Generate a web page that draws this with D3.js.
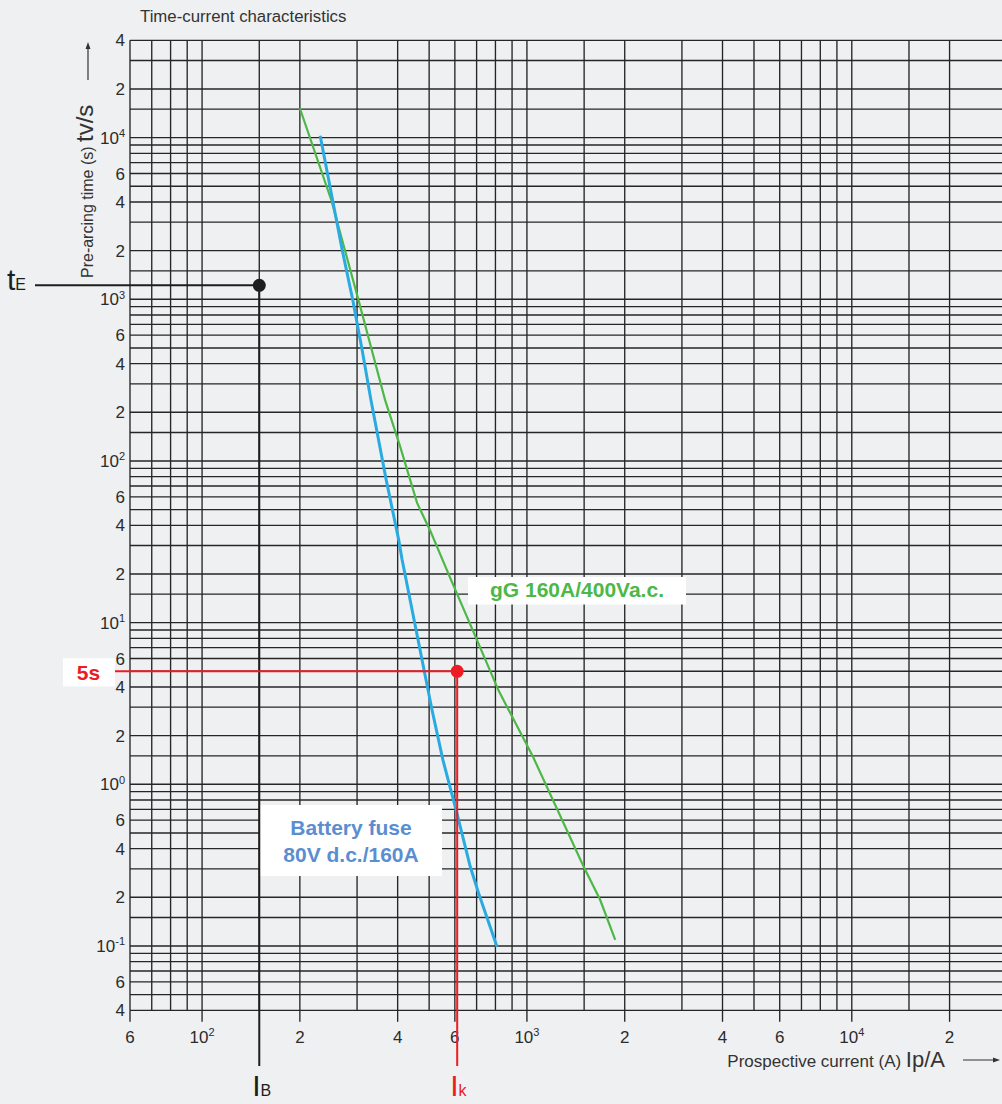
<!DOCTYPE html>
<html>
<head>
<meta charset="utf-8">
<script src="https://cdn.jsdelivr.net/npm/d3@7"></script>
<style>
  body { margin: 0; background: #eff0f2; }
  svg { display: block; font-family: 'Liberation Sans', Arial, Helvetica, sans-serif; }
  .grid-line { stroke: #262626; stroke-width: 1.35; }
  .tick-label { font-size: 17px; fill: #2b2b2b; }
  .box-label { font-size: 21px; font-weight: bold; }
</style>
</head>
<body>
<div id="chart"></div>
<script>
// axis ticks (labelled values)
var xTicks = [60, 100, 200, 400, 600, 1000, 2000, 4000, 6000, 10000, 20000];
var yTicks = [40000, 20000, 10000, 6000, 4000, 2000, 1000, 600, 400, 200, 100, 60, 40, 20, 10,
              6, 4, 2, 1, 0.6, 0.4, 0.2, 0.1, 0.06, 0.04];
var gridSteps = [1, 1.5, 2, 3, 4, 5, 6, 7, 8, 9];

// curves: [prospective current A, pre-arcing time s]
var gGCurve = [[200, 15200], [250, 4100], [303, 990], [366, 238], [407, 123], [459, 55],
               [504, 37], [584, 18.4], [702, 7.8], [818, 3.8], [1044, 1.48],
               [1494, 0.31], [1680, 0.193], [1870, 0.109]];
var batteryCurve = [[231, 10270], [270, 2020], [291, 990], [311, 486], [331, 238], [369, 76],
                    [403, 32.5], [413, 24.4], [510, 2.9], [551, 1.42], [609, 0.66], [669, 0.31],
                    [710, 0.212], [809, 0.099]];

// operating points
var currentIB = 150, timeTE = 1220;
var currentIK = 610, timeK = 5;

var width = 1002, height = 1104;
var green = '#4db848', blue = '#29abe2', blueText = '#5b8ed0', red = '#ed1c24';

var svg = d3.select('#chart')
    .append('svg')
    .attr('width', width)
    .attr('height', height);

svg.append('rect')
    .attr('width', width)
    .attr('height', height)
    .style('fill', '#eff0f2');

var x = d3.scaleLog().domain([60, 29000]).range([130, 1002]);
var y = d3.scaleLog().domain([0.04, 40000]).range([1010.3, 40.3]);

// grid values: every step of every decade inside the domain
function gridValues(domain) {
    var vals = [];
    for (var e = -3; e <= 5; e++) {
        gridSteps.forEach(function(s) {
            var v = s * Math.pow(10, e);
            if (v >= domain[0] * 0.999 && v <= domain[1] * 1.001) vals.push(v);
        });
    }
    return vals;
}

var grid = svg.append('g').attr('class', 'grid');

grid.selectAll('.v-line')
    .data(gridValues(x.domain()))
    .enter().append('line')
    .attr('class', 'grid-line v-line')
    .attr('x1', function(d) { return x(d); })
    .attr('x2', function(d) { return x(d); })
    .attr('y1', y(40000))
    .attr('y2', y(0.04));

grid.selectAll('.h-line')
    .data(gridValues(y.domain()))
    .enter().append('line')
    .attr('class', 'grid-line h-line')
    .attr('x1', x(60))
    .attr('x2', width)
    .attr('y1', function(d) { return y(d); })
    .attr('y2', function(d) { return y(d); });

// tick marks below the bottom edge
grid.selectAll('.x-tick')
    .data(xTicks)
    .enter().append('line')
    .attr('class', 'grid-line x-tick')
    .attr('x1', function(d) { return x(d); })
    .attr('x2', function(d) { return x(d); })
    .attr('y1', y(0.04))
    .attr('y2', y(0.04) + 11.5);

function isPow10(v) {
    var l = Math.log10(v);
    return Math.abs(l - Math.round(l)) < 1e-9;
}

function writeLabel(sel) {
    sel.each(function(d) {
        var t = d3.select(this);
        if (isPow10(d)) {
            t.append('tspan').text('10');
            t.append('tspan')
                .attr('dy', '-0.6em')
                .style('font-size', '11px')
                .text(Math.round(Math.log10(d)));
        } else {
            var e = Math.floor(Math.log10(d) + 1e-9);
            t.text(Math.round(d / Math.pow(10, e)));
        }
    });
}

svg.selectAll('.x-label')
    .data(xTicks)
    .enter().append('text')
    .attr('class', 'tick-label x-label')
    .attr('x', function(d) { return x(d); })
    .attr('y', 1043)
    .style('text-anchor', 'middle')
    .call(writeLabel);

svg.selectAll('.y-label')
    .data(yTicks)
    .enter().append('text')
    .attr('class', 'tick-label y-label')
    .attr('x', 125)
    .attr('y', function(d) { return y(d); })
    .attr('dy', '0.36em')
    .style('text-anchor', 'end')
    .call(writeLabel);

// title and axis titles
svg.append('text')
    .attr('x', 140)
    .attr('y', 22)
    .style('font-size', '16.8px')
    .style('fill', '#333')
    .text('Time-current characteristics');

var yTitle = svg.append('text')
    .attr('transform', 'translate(93,278) rotate(-90)')
    .style('font-size', '16px')
    .style('fill', '#333');
yTitle.append('tspan').text('Pre-arcing time (s) ');
yTitle.append('tspan').style('font-size', '24px').text('tv/s');

var xTitle = svg.append('text')
    .attr('x', 945)
    .attr('y', 1067)
    .style('font-size', '17px')
    .style('fill', '#333')
    .style('text-anchor', 'end');
xTitle.append('tspan').text('Prospective current (A) ');
xTitle.append('tspan').style('font-size', '22px').text('Ip/A');

// arrows next to the axis titles
svg.append('line')
    .attr('x1', 88).attr('x2', 88).attr('y1', 80).attr('y2', 46)
    .style('stroke', '#333').style('stroke-width', 1.2);
svg.append('path')
    .attr('d', 'M88,42 L85.5,49 L90.5,49 Z')
    .style('fill', '#333');

svg.append('line')
    .attr('x1', 963).attr('x2', 996).attr('y1', 1060).attr('y2', 1060)
    .style('stroke', '#333').style('stroke-width', 1.2);
svg.append('path')
    .attr('d', 'M1000,1060 L993,1057.5 L993,1062.5 Z')
    .style('fill', '#333');

// curves
var line = d3.line()
    .x(function(d) { return x(d[0]); })
    .y(function(d) { return y(d[1]); });

svg.append('path')
    .datum(gGCurve)
    .attr('d', line)
    .style('fill', 'none')
    .style('stroke', green)
    .style('stroke-width', 2.2);

svg.append('path')
    .datum(batteryCurve)
    .attr('d', line)
    .style('fill', 'none')
    .style('stroke', blue)
    .style('stroke-width', 3);

// label boxes
svg.append('rect')
    .attr('x', 468).attr('y', 577).attr('width', 218).attr('height', 27.5)
    .style('fill', '#fff');
svg.append('text')
    .attr('class', 'box-label')
    .attr('x', 577).attr('y', 597)
    .style('text-anchor', 'middle')
    .style('fill', green)
    .text('gG 160A/400Va.c.');

svg.append('rect')
    .attr('x', 260).attr('y', 805).attr('width', 182).attr('height', 71)
    .style('fill', '#fff');
svg.selectAll('.battery-text')
    .data(['Battery fuse', '80V d.c./160A'])
    .enter().append('text')
    .attr('class', 'box-label battery-text')
    .attr('x', 351)
    .attr('y', function(d, i) { return 835 + i * 27; })
    .style('text-anchor', 'middle')
    .style('fill', blueText)
    .text(function(d) { return d; });

svg.append('rect')
    .attr('x', 63).attr('y', y(timeK) - 13).attr('width', 52).attr('height', 28)
    .style('fill', '#fff');
svg.append('text')
    .attr('class', 'box-label')
    .attr('x', 88.5).attr('y', y(timeK) + 9)
    .style('text-anchor', 'middle')
    .style('fill', red)
    .text('5s');

// tE / IB marker
svg.append('line')
    .attr('x1', 35).attr('x2', x(currentIB))
    .attr('y1', y(timeTE)).attr('y2', y(timeTE))
    .style('stroke', '#1e1e1e').style('stroke-width', 2);
svg.append('line')
    .attr('x1', x(currentIB)).attr('x2', x(currentIB))
    .attr('y1', y(timeTE)).attr('y2', 1066)
    .style('stroke', '#1e1e1e').style('stroke-width', 2);
svg.append('circle')
    .attr('cx', x(currentIB)).attr('cy', y(timeTE)).attr('r', 6.5)
    .style('fill', '#1e1e1e');

// 5s / Ik marker
svg.append('line')
    .attr('x1', 115).attr('x2', x(currentIK))
    .attr('y1', y(timeK)).attr('y2', y(timeK))
    .style('stroke', red).style('stroke-width', 2);
svg.append('line')
    .attr('x1', x(currentIK)).attr('x2', x(currentIK))
    .attr('y1', y(timeK)).attr('y2', 1066)
    .style('stroke', red).style('stroke-width', 2);
svg.append('circle')
    .attr('cx', x(currentIK)).attr('cy', y(timeK)).attr('r', 6.5)
    .style('fill', red);

// marker names
var tE = svg.append('text')
    .attr('x', 7).attr('y', 290)
    .style('fill', '#1e1e1e')
    .style('font-size', '30px');
tE.append('tspan').text('t');
tE.append('tspan').style('font-size', '16px').text('E');

var iB = svg.append('text')
    .attr('x', x(currentIB) - 7).attr('y', 1096)
    .style('fill', '#1e1e1e')
    .style('font-size', '30px');
iB.append('tspan').text('I');
iB.append('tspan').style('font-size', '16px').text('B');

var iK = svg.append('text')
    .attr('x', x(currentIK) - 7).attr('y', 1096)
    .style('fill', red)
    .style('font-size', '30px');
iK.append('tspan').text('I');
iK.append('tspan').style('font-size', '16px').text('k');
</script>
</body>
</html>
